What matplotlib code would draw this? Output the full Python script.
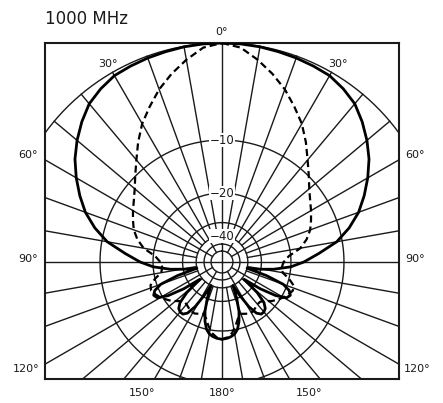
import numpy as np
import matplotlib.pyplot as plt

#########################################################
# Data : radiation pattern, 0..180 deg (other half is mirror)
#########################################################

title = "1000 MHz"

solid_angle = [0, 5, 10, 15, 20, 25, 30, 35, 40, 45, 50, 55, 60, 65, 70, 75, 80, 85, 90,
               94, 98, 101, 104, 107, 110, 113, 116, 119, 122, 125, 128, 131, 134, 137,
               140, 143, 146, 149, 152, 155, 158, 161, 164, 167, 170, 173, 176, 180]
solid_db = [0, -0.01, -0.04, -0.1, -0.15, -0.22, -0.3, -0.6, -1.0, -1.7, -2.5, -3.4, -4.5,
            -5.7, -7.0, -8.7, -10.8, -14, -17,
            -20, -25, -31, -40, -27, -21, -19, -18.3, -18.8, -21.5, -27, -38, -27, -23, -21.5,
            -21, -21, -22, -25, -31, -40, -30, -25, -22, -20, -19, -18.5, -18.2, -18]

dashed_angle = [0, 5, 10, 15, 20, 25, 30, 35, 40, 45, 50, 55, 60, 65, 70, 75, 80, 85, 90,
                95, 100, 104, 108, 112, 116, 120, 124, 128, 132, 136, 140, 144, 148, 152,
                156, 160, 164, 168, 172, 176, 180]
dashed_db = [0, -0.3, -1.1, -2.0, -3.0, -4.2, -5.4, -6.9, -8.5, -9.9, -11.2, -12.2, -13.0,
             -13.8, -14.6, -15.8, -17.5, -20.5, -22,
             -22.5, -22, -20, -18.5, -18.2, -18.8, -19.5, -20.5, -21.5, -23, -24, -24,
             -23.5, -23, -23, -23.5, -24, -23, -21, -19.3, -18.4, -18]

ring_db = [0, -10, -20, -30, -40, -50, -60]
ring_labels = {-10: "\u221210", -20: "\u221220", -40: "\u221240"}

angle_labels = ["0°", "30°", "30°", "60°", "60°", "90°", "90°",
                "120°", "120°", "150°", "180°", "150°"]
label_xy = [(0, 1.05), (-0.52, 0.905), (0.53, 0.905), (-0.886, 0.49), (0.88, 0.49),
            (-0.886, 0.014), (0.88, 0.014), (-0.895, -0.489), (0.89, -0.489),
            (-0.365, -0.598), (0, -0.598), (0.397, -0.598)]

# log-periodic radial scale of the chart (dB -> relative radius)
scale_db = [-60, -50, -40, -30, -20, -10, 0]
scale_r = [0.05, 0.082, 0.118, 0.180, 0.315, 0.557, 1.0]


def db_to_r(db):
    return np.exp(np.interp(db, scale_db, np.log(scale_r)))


def full_pattern(angle, db):
    angle = np.asarray(angle, dtype=float)
    db = np.asarray(db, dtype=float)
    a = np.concatenate([angle, 360 - angle[::-1]])
    d = np.concatenate([db, db[::-1]])
    r = db_to_r(d)
    t = np.radians(a)
    return r * np.sin(t), r * np.cos(t)


#########################################################
# Figure
#########################################################

ink = "#1a1a1a"
fig = plt.figure(figsize=(4.43, 4.03), dpi=100)
ax = fig.add_axes([45 / 443, 24 / 403, 354 / 443, 336 / 403])
xl = 177 / 219
ax.set_xlim(-xl, xl)
ax.set_ylim(-117 / 219, 1.0)
ax.set_xticks([])
ax.set_yticks([])
for s in ax.spines.values():
    s.set_linewidth(1.5)
    s.set_color(ink)

# rings
t = np.linspace(0, 2 * np.pi, 721)
for d in ring_db:
    r = db_to_r(d)
    ax.plot(r * np.sin(t), r * np.cos(t), color=ink, lw=1.0, zorder=1)

# radial lines every 10 deg
for ang in range(0, 360, 10):
    if ang % 90 == 0:
        r0 = 0
    elif ang % 30 == 0:
        r0 = db_to_r(-60)
    else:
        r0 = db_to_r(-40)
    a = np.radians(ang)
    ax.plot([r0 * np.sin(a), np.sin(a)], [r0 * np.cos(a), np.cos(a)],
            color=ink, lw=1.0, zorder=1)

# ring labels
for d, txt in ring_labels.items():
    ax.text(0, db_to_r(d), txt, ha="center", va="center", fontsize=8.5, color=ink,
            bbox=dict(facecolor="white", edgecolor="none", pad=0.6), zorder=3)

# patterns
x, y = full_pattern(solid_angle, solid_db)
ax.plot(x, y, color="black", lw=2.0, zorder=4)
x, y = full_pattern(dashed_angle, dashed_db)
ax.plot(x, y, color="black", lw=1.6, dashes=(3.2, 1.8), zorder=4)

# angle labels
for txt, (lx, ly) in zip(angle_labels, label_xy):
    ax.text(lx, ly, txt, ha="center", va="center", fontsize=8, color=ink, clip_on=False)

fig.text(45 / 443, 1 - 19 / 403, title, ha="left", va="center", fontsize=12, color=ink)

fig.savefig("out.png", dpi=100, facecolor="white")
